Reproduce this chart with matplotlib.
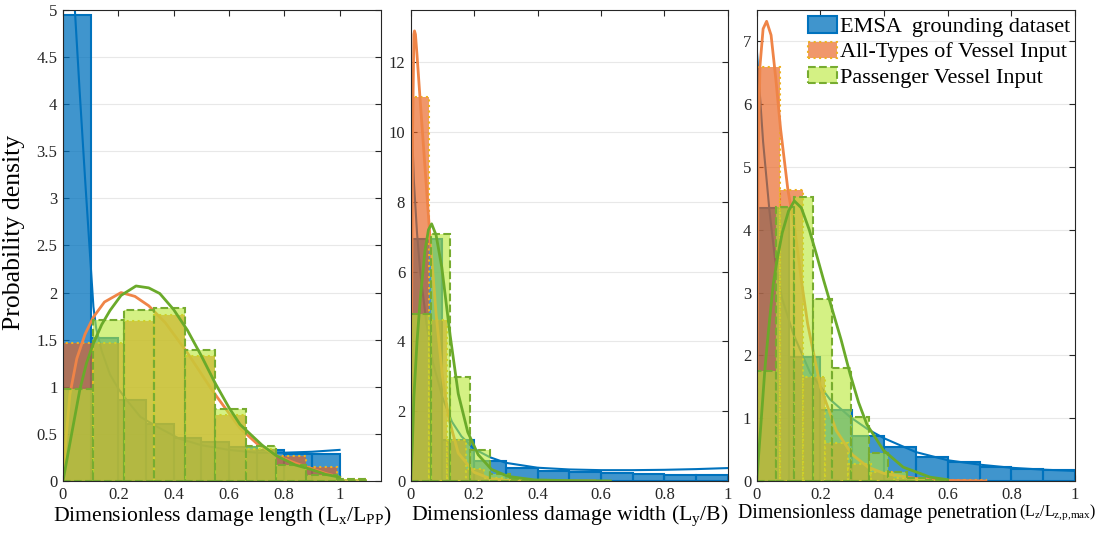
import numpy as np
import matplotlib
matplotlib.use("Agg")
import matplotlib.pyplot as plt
from matplotlib.colors import to_rgba
from matplotlib.patches import Patch
from matplotlib.ticker import FuncFormatter

plt.rcParams['font.family'] = ['Liberation Serif', 'DejaVu Serif']
plt.rcParams['mathtext.fontset'] = 'custom'
plt.rcParams['mathtext.rm'] = 'Liberation Serif'
plt.rcParams['mathtext.it'] = 'Liberation Serif:italic'

# ---- histogram bar heights (probability density) ----
# damage length
len_emsa = [4.95, 1.52, 0.86, 0.61, 0.46, 0.41, 0.36, 0.33, 0.29, 0.29]
len_all = [1.47, 1.46, 1.70, 1.76, 1.33, 0.70, 0.34, 0.26, 0.15, 0.02]
len_pass = [0.98, 1.71, 1.82, 1.84, 1.39, 0.76, 0.37, 0.17, 0.06, 0.02]
len_widths = [0.1, 0.11, 0.11]

# damage width
wid_emsa = [6.93, 1.17, 0.57, 0.36, 0.30, 0.25, 0.22, 0.20, 0.18, 0.18]
wid_all = [11.0, 4.61, 1.17, 0.33, 0.09, 0.03, 0.01, 0.0, 0.0, 0.0]
wid_pass = [4.8, 7.09, 2.99, 0.88, 0.2, 0.05, 0.02, 0.01, 0.01, 0.01]
wid_widths = [0.1, 0.058, 0.0625]

# damage penetration
pen_emsa = [4.35, 1.98, 1.13, 0.72, 0.54, 0.38, 0.30, 0.22, 0.19, 0.17]
pen_all = [6.6, 4.63, 1.65, 0.6, 0.27, 0.14, 0.05, 0.02, 0.01, 0.01]
pen_pass = [1.75, 4.37, 4.52, 2.9, 1.8, 1.02, 0.44, 0.15, 0.05, 0.02]
pen_widths = [0.1, 0.072, 0.059]

# ---- fitted pdf curves ----
len_emsa_x = [0.035, 0.043, 0.06, 0.08, 0.1, 0.11, 0.12, 0.14, 0.17, 0.2, 0.23, 0.28, 0.35, 0.42, 0.5, 0.6, 0.7, 0.8, 0.9, 1.0]
len_emsa_y = [5.4, 5.0, 4.15, 3.2, 2.3, 1.85, 1.62, 1.38, 1.13, 0.98, 0.86, 0.68, 0.56, 0.45, 0.38, 0.33, 0.3, 0.3, 0.31, 0.33]
len_all_x = [0, 0.01, 0.025, 0.05, 0.08, 0.11, 0.15, 0.21, 0.26, 0.31, 0.37, 0.45, 0.54, 0.64, 0.7, 0.77, 0.84, 0.9, 0.95, 1.0]
len_all_y = [0, 0.42, 0.92, 1.3, 1.56, 1.74, 1.9, 2.0, 1.96, 1.86, 1.68, 1.36, 0.96, 0.56, 0.4, 0.27, 0.19, 0.13, 0.08, 0.04]
len_pass_x = [0, 0.03, 0.061, 0.085, 0.11, 0.14, 0.17, 0.21, 0.264, 0.31, 0.35, 0.4, 0.45, 0.5, 0.55, 0.6, 0.64, 0.68, 0.72, 0.77, 0.84, 0.9, 0.95, 1.0]
len_pass_y = [0, 0.48, 0.97, 1.25, 1.46, 1.66, 1.81, 1.97, 2.07, 2.05, 1.99, 1.82, 1.6, 1.33, 1.04, 0.78, 0.6, 0.49, 0.38, 0.27, 0.17, 0.12, 0.07, 0.04]

wid_emsa_x = [0, 0.01, 0.02, 0.03, 0.05, 0.07, 0.1, 0.13, 0.16, 0.2, 0.25, 0.3, 0.4, 0.5, 0.6, 0.7, 0.8, 0.9, 1.0]
wid_emsa_y = [11.1, 8.6, 7.1, 6.0, 4.5, 3.4, 2.4, 1.7, 1.28, 0.92, 0.68, 0.52, 0.38, 0.33, 0.31, 0.31, 0.32, 0.34, 0.37]
wid_all_x = [0, 0.003, 0.006, 0.01, 0.012, 0.015, 0.02, 0.03, 0.045, 0.06, 0.08, 0.1, 0.12, 0.15, 0.2, 0.25, 0.3, 0.4, 0.58]
wid_all_y = [0, 5.0, 10.0, 12.8, 12.9, 12.8, 12.2, 10.9, 9.0, 7.1, 4.8, 3.0, 1.8, 0.8, 0.25, 0.07, 0.02, 0.0, 0.0]
wid_pass_x = [0, 0.005, 0.01, 0.02, 0.03, 0.045, 0.056, 0.066, 0.08, 0.098, 0.124, 0.15, 0.18, 0.213, 0.255, 0.308, 0.39, 0.5, 0.63]
wid_pass_y = [0, 1.0, 2.4, 4.0, 5.2, 6.6, 7.2, 7.37, 7.05, 6.13, 4.2, 2.5, 1.4, 0.75, 0.33, 0.13, 0.03, 0.01, 0.0]

pen_emsa_x = [0, 0.02, 0.04, 0.058, 0.08, 0.115, 0.168, 0.23, 0.293, 0.35, 0.4, 0.45, 0.5, 0.6, 0.7, 0.8, 0.9, 1.0]
pen_emsa_y = [6.88, 5.4, 4.3, 3.51, 2.9, 2.34, 1.72, 1.3, 1.02, 0.82, 0.68, 0.57, 0.46, 0.33, 0.26, 0.21, 0.18, 0.16]
pen_all_x = [0, 0.004, 0.01, 0.02, 0.031, 0.045, 0.06, 0.075, 0.098, 0.12, 0.14, 0.16, 0.2, 0.25, 0.3, 0.35, 0.4, 0.5, 0.6, 0.72]
pen_all_y = [0, 5.0, 6.6, 7.2, 7.32, 7.1, 6.4, 5.6, 4.63, 4.0, 3.2, 2.5, 1.5, 0.8, 0.42, 0.22, 0.12, 0.04, 0.01, 0.0]
pen_pass_x = [0, 0.013, 0.026, 0.04, 0.052, 0.065, 0.08, 0.1, 0.118, 0.14, 0.165, 0.188, 0.21, 0.236, 0.265, 0.293, 0.32, 0.346, 0.398, 0.46, 0.545, 0.6]
pen_pass_y = [0, 0.9, 1.81, 2.55, 3.14, 3.55, 3.95, 4.3, 4.46, 4.35, 4.0, 3.6, 3.2, 2.75, 2.25, 1.71, 1.25, 0.9, 0.49, 0.22, 0.06, 0.02]

legend_labels = ['EMSA  grounding dataset', 'All-Types of Vessel Input', 'Passenger Vessel Input']

#Colours
blue = '#0072BD'
blue_face = to_rgba(blue, 0.75)
orange_face = to_rgba('#E8601C', 0.65)
orange_edge = '#EDB120'
orange_line = '#EF8447'
green_face = to_rgba('#B8E832', 0.6)
green_edge = '#77AC30'
green_line = '#6AAA2A'


def draw_hist(ax, heights, width, face, edge, ls, z):
    lefts = np.arange(len(heights)) * width
    ax.bar(lefts, heights, width=width, align='edge', color=face,
           edgecolor=edge, linestyle=ls, linewidth=1.5, zorder=z)


def draw_panel(ax, hists, widths, curves):
    # each dataset: bars, then its fitted curve, later layers cover earlier ones
    draw_hist(ax, hists[0], widths[0], blue_face, blue, '-', 2)
    ax.plot(curves[0][0], curves[0][1], color=blue, lw=1.5, zorder=3)
    draw_hist(ax, hists[1], widths[1], orange_face, orange_edge, ':', 4)
    ax.plot(curves[1][0], curves[1][1], color=orange_line, lw=2, zorder=5)
    draw_hist(ax, hists[2], widths[2], green_face, green_edge, '--', 6)
    ax.plot(curves[2][0], curves[2][1], color=green_line, lw=2, zorder=7)

    ax.set_axisbelow(True)
    ax.grid(axis='y', color='#e8e8e8', lw=0.8)
    ax.tick_params(direction='in', top=True, right=True, length=4,
                   labelsize=12, colors='#262626', pad=4)
    for s in ax.spines.values():
        s.set_color('#262626')
        s.set_linewidth(0.8)
        s.set_zorder(10)
    fmt = FuncFormatter(lambda v, p: '%g' % v)
    ax.xaxis.set_major_formatter(fmt)
    ax.yaxis.set_major_formatter(fmt)
    ax.set_xticks(np.arange(0, 1.01, 0.2))


fig = plt.figure(figsize=(11.07, 5.34), dpi=100)
ax1 = fig.add_axes([0.0569, 0.0993, 0.2873, 0.882])
ax2 = fig.add_axes([0.371, 0.0993, 0.2864, 0.882])
ax3 = fig.add_axes([0.6836, 0.0993, 0.2875, 0.882])

draw_panel(ax1, [len_emsa, len_all, len_pass], len_widths,
           [(len_emsa_x, len_emsa_y), (len_all_x, len_all_y), (len_pass_x, len_pass_y)])
ax1.set_xlim(0, 1.15)
ax1.set_ylim(0, 5)
ax1.set_yticks(np.arange(0, 5.01, 0.5))
ax1.set_ylabel('Probability density', fontsize=18.5)
ax1.yaxis.set_label_coords(-0.12, 0.527)
ax1.set_xlabel(r'Dimensionless damage length (L$_\mathregular{x}$/L$_\mathregular{PP}$)', fontsize=15.6, labelpad=1)

draw_panel(ax2, [wid_emsa, wid_all, wid_pass], wid_widths,
           [(wid_emsa_x, wid_emsa_y), (wid_all_x, wid_all_y), (wid_pass_x, wid_pass_y)])
ax2.set_xlim(0, 1)
ax2.set_ylim(0, 13.5)
ax2.set_yticks(np.arange(0, 12.1, 2))
ax2.set_xlabel(r'Dimensionless damage width (L$_\mathregular{y}$/B)', fontsize=15.6, labelpad=1)

draw_panel(ax3, [pen_emsa, pen_all, pen_pass], pen_widths,
           [(pen_emsa_x, pen_emsa_y), (pen_all_x, pen_all_y), (pen_pass_x, pen_pass_y)])
ax3.set_xlim(0, 1)
ax3.set_ylim(0, 7.5)
ax3.set_yticks(np.arange(0, 7.1, 1))
ax3.text(0.818, -0.068, 'Dimensionless damage penetration', transform=ax3.transAxes,
         ha='right', va='center', fontsize=14.3)
ax3.text(0.824, -0.066, r'(L$_\mathregular{z}$/L$_\mathregular{z{,}p{,}max}$)', transform=ax3.transAxes,
         ha='left', va='center', fontsize=11.5)

handles = [Patch(facecolor=blue_face, edgecolor=blue, linestyle='-', linewidth=1.5),
           Patch(facecolor=orange_face, edgecolor=orange_edge, linestyle=':', linewidth=1.5),
           Patch(facecolor=green_face, edgecolor=green_edge, linestyle='--', linewidth=1.5)]
ax3.legend(handles, legend_labels, loc='upper right', bbox_to_anchor=(1.027, 1.015),
           frameon=False, fontsize=16, handlelength=1.3, handleheight=0.75,
           handletextpad=0.15, labelspacing=0.2, borderaxespad=0.2)

fig.savefig('out.png', dpi=100)
